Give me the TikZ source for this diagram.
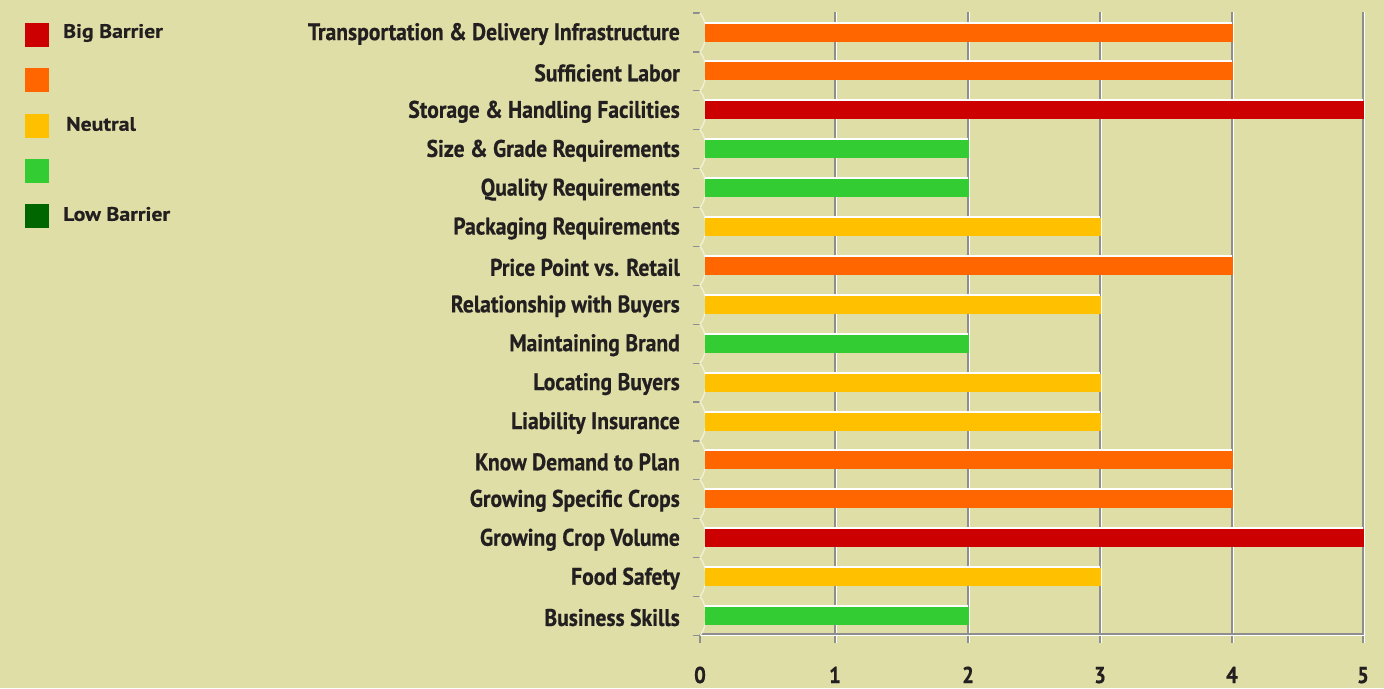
\documentclass[tikz,border=0pt]{standalone}
\usepackage{fontspec}
\setmainfont{PT Sans}
\newfontfamily\condfont{PT Sans}[FakeStretch=0.90, FakeBold=0.6]
\newfontfamily\legfont{PT Sans}[FakeStretch=1.12, FakeBold=0.4]
\definecolor{bg}{HTML}{DEDEA6}
\definecolor{txt}{HTML}{231F20}
\definecolor{cred}{HTML}{CC0000}
\definecolor{corange}{HTML}{FF6600}
\definecolor{cyellow}{HTML}{FFC000}
\definecolor{cgreen}{HTML}{33CC33}
\definecolor{cdgreen}{HTML}{006600}
\definecolor{grid}{HTML}{8E8E8E}
\tikzset{
  catlbl/.style={anchor=east, inner sep=0pt, text=txt, font=\condfont\bfseries\fontsize{24}{24}\selectfont},
  numlbl/.style={anchor=base, inner sep=0pt, text=txt, font=\condfont\bfseries\fontsize{23}{23}\selectfont},
  leglbl/.style={anchor=west, inner sep=0pt, text=txt, font=\legfont\bfseries\fontsize{19.5}{19.5}\selectfont},
  legbox/.style={minimum width=24pt, minimum height=24pt, inner sep=0pt, draw=none},
  gridline/.style={draw=grid, line width=1.6pt},
  gridshadow/.style={draw=white, line width=1pt},
  bulge/.style={draw=white!55!bg, line width=1.4pt},
}
\def\gxlist{{700,835,968,1100,1232,1363}}
\begin{document}
\begin{tikzpicture}[x=1pt,y=-1pt]
\fill[bg] (0,0) rectangle (1384,688);
\useasboundingbox (0,0) rectangle (1384,688);
% grid lines
\foreach \k in {1,...,5}{
  \pgfmathsetmacro{\gx}{\gxlist[\k]}
  \draw[gridshadow] (\gx+1.8,12) -- (\gx+1.8,643);
  \draw[gridline] (\gx,12) -- (\gx,643);
}
% horizontal axis
\draw[draw=white, line width=1pt] (700,635.5) -- (1364,635.5);
\draw[gridline] (700,634) -- (1364,634);
\draw[gridline] (700,634) -- (700,643);
% left axis ticks and bulges
\foreach \k in {0,...,16}{
  \pgfmathsetmacro{\by}{13+38.9*\k}
  \draw[draw=grid, line width=1.2pt] (693,\by) -- (700,\by);
}
\foreach \k in {0,...,15}{
  \pgfmathsetmacro{\by}{13+38.9*\k}
  \pgfmathsetmacro{\cy}{\by+19.45}
  \pgfmathsetmacro{\ey}{\by+38.9}
  \draw[bulge] (700,\by) .. controls (708,\cy-10) and (708,\cy+10) .. (700,\ey);
}
% bars and labels
\foreach \i/\lab/\v/\c in {
  1/Transportation \& Delivery Infrastructure/4/corange,
  2/Sufficient Labor/4/corange,
  3/Storage \& Handling Facilities/5/cred,
  4/Size \& Grade Requirements/2/cgreen,
  5/Quality Requirements/2/cgreen,
  6/Packaging Requirements/3/cyellow,
  7/Price Point vs. Retail/4/corange,
  8/Relationship with Buyers/3/cyellow,
  9/Maintaining Brand/2/cgreen,
  10/Locating Buyers/3/cyellow,
  11/Liability Insurance/3/cyellow,
  12/Know Demand to Plan/4/corange,
  13/Growing Specific Crops/4/corange,
  14/Growing Crop Volume/5/cred,
  15/Food Safety/3/cyellow,
  16/Business Skills/2/cgreen}{
  \pgfmathsetmacro{\cy}{32.5+38.9*(\i-1)}
  \pgfmathsetmacro{\ex}{\gxlist[\v]+1}
  \fill[white] (705,\cy-11) rectangle (\ex-1,\cy-9);
  \fill[\c] (705,\cy-9) rectangle (\ex,\cy+9);
  \node[catlbl] (cat\i) at (680,\cy+1.5) {\lab};
}
% axis numbers
\foreach \k in {0,...,5}{
  \pgfmathsetmacro{\nx}{\gxlist[\k]}
  \node[numlbl] (num\k) at (\nx,683) {\k};
}
% legend
\node[legbox, fill=cred] (lg1) at (37,35) {};
\node[legbox, fill=corange] (lg2) at (37,80) {};
\node[legbox, fill=cyellow] (lg3) at (37,126) {};
\node[legbox, fill=cgreen] (lg4) at (37,171) {};
\node[legbox, fill=cdgreen] (lg5) at (37,216) {};
\node[leglbl] (lt1) at (63,33) {Big Barrier};
\node[leglbl] (lt3) at (66,124) {Neutral};
\node[leglbl] (lt5) at (63,214) {Low Barrier};
\end{tikzpicture}
\end{document}
